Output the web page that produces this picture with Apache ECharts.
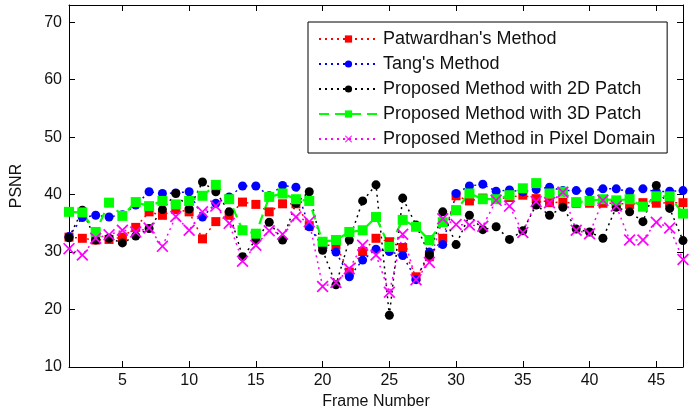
<!DOCTYPE html>
<html>
<head>
<meta charset="utf-8">
<script src="https://cdn.jsdelivr.net/npm/echarts@6/dist/echarts.min.js"></script>
<style>
html,body{margin:0;padding:0;background:#fff;}
#chart{width:694px;height:415px;}
</style>
</head>
<body>
<div id="chart"></div>
<script>
// Frame numbers
const frames = [];
for (let i = 1; i <= 47; i++) frames.push(i);

const xTicks = [5, 10, 15, 20, 25, 30, 35, 40, 45];
const yTicks = [10, 20, 30, 40, 50, 60, 70];

const patwardhan = [32.6, 32.4, 32.1, 32.2, 32.6, 34.3, 37.0, 36.4, 37.4, 37.0,
  32.3, 35.3, 36.4, 38.7, 38.3, 37.0, 38.4, 38.4, 34.6, 31.2,
  31.2, 26.5, 30.1, 32.4, 31.8, 30.8, 25.7, 29.2, 32.4, 39.8,
  38.9, 39.4, 39.2, 39.5, 39.9, 39.3, 38.6, 38.7, 38.5, 38.5,
  38.5, 38.5, 38.3, 38.6, 38.5, 38.6, 38.6];

const tang = [32.7, 36.0, 36.4, 36.1, 36.5, 38.2, 40.5, 40.2, 40.3, 40.5,
  36.1, 38.5, 39.6, 41.5, 41.5, 39.8, 41.6, 41.3, 34.4, 31.0,
  30.0, 25.7, 28.6, 30.5, 30.1, 29.4, 25.2, 30.0, 31.3, 40.2,
  41.5, 41.8, 40.6, 40.8, 40.5, 40.9, 41.3, 40.7, 40.7, 40.5,
  41.0, 41.0, 40.5, 41.0, 40.5, 40.6, 40.7];

const proposed2D = [32.5, 37.3, 32.1, 32.4, 31.6, 32.8, 34.1, 37.4, 40.2, 37.5,
  42.2, 40.5, 37.0, 29.2, 32.1, 35.2, 32.1, 38.5, 40.5, 30.3,
  24.3, 32.1, 38.9, 41.7, 19.0, 39.4, 34.7, 29.5, 37.0, 31.3,
  36.4, 33.9, 34.4, 32.2, 33.7, 38.2, 36.4, 37.8, 34.0, 33.5,
  32.4, 37.8, 37.0, 35.3, 41.6, 37.6, 32.0];

const proposed3D = [37.0, 36.9, 33.5, 38.6, 36.3, 38.7, 38.0, 38.9, 38.3, 38.9,
  39.8, 41.7, 39.2, 33.8, 33.2, 39.6, 40.2, 39.2, 38.9, 31.8,
  32.1, 33.5, 33.8, 36.1, 30.9, 35.6, 34.4, 32.1, 35.2, 37.3,
  40.2, 39.2, 39.2, 39.9, 41.1, 42.0, 40.2, 40.5, 38.7, 38.9,
  39.2, 39.0, 39.2, 37.9, 39.7, 39.7, 36.7];

const pixelDomain = [30.6, 29.5, 32.4, 33.0, 33.8, 33.5, 34.2, 31.0, 36.2, 33.8,
  37.0, 38.0, 35.0, 28.4, 31.2, 33.7, 33.1, 36.1, 35.3, 24.0,
  24.7, 27.1, 31.2, 29.5, 23.0, 33.1, 25.2, 28.2, 35.8, 34.8,
  34.7, 34.5, 39.0, 38.0, 33.4, 38.8, 38.6, 40.4, 33.8, 33.2,
  39.0, 38.0, 32.1, 32.1, 35.2, 34.2, 28.7];

const seriesNames = ["Patwardhan's Method", "Tang's Method", "Proposed Method with 2D Patch",
  "Proposed Method with 3D Patch", "Proposed Method in Pixel Domain"];

const pair = arr => frames.map((f, i) => [f, arr[i]]);
const dots = [2, 4];
const xSymbol = 'path://M0,1L1,0L5,4L9,0L10,1L6,5L10,9L9,10L5,6L1,10L0,9L4,5Z';
const FONT = 'Liberation Sans, Arial, Helvetica, sans-serif';

const chart = echarts.init(document.getElementById('chart'), null, {renderer: 'canvas'});

const baseAxisLine = {show: true, lineStyle: {color: '#000', width: 1}};

chart.setOption({
  animation: false,
  backgroundColor: '#fff',
  textStyle: {fontFamily: FONT},
  grid: {left: 69, right: 11, top: 5, bottom: 48, containLabel: false},
  legend: {
    orient: 'vertical',
    left: 308, top: 22,
    padding: [8, 12, 5, 10],
    itemWidth: 59, itemHeight: 9, itemGap: 7,
    borderColor: '#000', borderWidth: 1,
    backgroundColor: '#fff',
    textStyle: {fontSize: 18, color: '#111', fontFamily: FONT},
    data: seriesNames
  },
  xAxis: [{
    type: 'value', min: 1, max: 47,
    name: 'Frame Number', nameLocation: 'middle', nameGap: 27,
    nameTextStyle: {fontSize: 16, color: '#111', fontFamily: FONT},
    axisLine: baseAxisLine,
    axisTick: {show: true, inside: true, length: 6, customValues: xTicks, lineStyle: {color: '#000'}},
    axisLabel: {customValues: xTicks, fontSize: 16, color: '#111', margin: 6, fontFamily: FONT},
    splitLine: {show: false}
  }, {
    type: 'value', min: 1, max: 47, position: 'top',
    axisLine: baseAxisLine,
    axisTick: {show: true, inside: true, length: 6, customValues: xTicks, lineStyle: {color: '#000'}},
    axisLabel: {show: false},
    splitLine: {show: false}
  }],
  yAxis: [{
    type: 'value', min: 10, max: 73,
    name: 'PSNR', nameLocation: 'middle', nameGap: 44,
    nameTextStyle: {fontSize: 16, color: '#111', fontFamily: FONT},
    axisLine: baseAxisLine,
    axisTick: {show: true, inside: true, length: 6, customValues: yTicks, lineStyle: {color: '#000'}},
    axisLabel: {customValues: yTicks, fontSize: 16, color: '#111', margin: 7, fontFamily: FONT},
    splitLine: {show: false}
  }, {
    type: 'value', min: 10, max: 73, position: 'right',
    axisLine: baseAxisLine,
    axisTick: {show: true, inside: true, length: 6, customValues: yTicks, lineStyle: {color: '#000'}},
    axisLabel: {show: false},
    splitLine: {show: false}
  }],
  series: [
    {
      name: seriesNames[0], type: 'line', data: pair(patwardhan),
      symbol: 'rect', symbolSize: 9,
      lineStyle: {color: '#ff0000', width: 1.5, type: dots},
      itemStyle: {color: '#ff0000'}
    },
    {
      name: seriesNames[1], type: 'line', data: pair(tang),
      symbol: 'circle', symbolSize: 9,
      lineStyle: {color: '#0000ff', width: 1.5, type: dots},
      itemStyle: {color: '#0000ff'}
    },
    {
      name: seriesNames[2], type: 'line', data: pair(proposed2D),
      symbol: 'circle', symbolSize: 9,
      lineStyle: {color: '#000000', width: 1.5, type: dots},
      itemStyle: {color: '#000000'}
    },
    {
      name: seriesNames[3], type: 'line', data: pair(proposed3D),
      symbol: 'rect', symbolSize: 10,
      lineStyle: {color: '#00ff00', width: 2.2, type: [10, 6]},
      itemStyle: {color: '#00ff00'}
    },
    {
      name: seriesNames[4], type: 'line', data: pair(pixelDomain),
      symbol: xSymbol, symbolSize: 12,
      lineStyle: {color: '#ff00ff', width: 1.5, type: dots},
      itemStyle: {color: '#ff00ff'}
    }
  ]
});
</script>
</body>
</html>
